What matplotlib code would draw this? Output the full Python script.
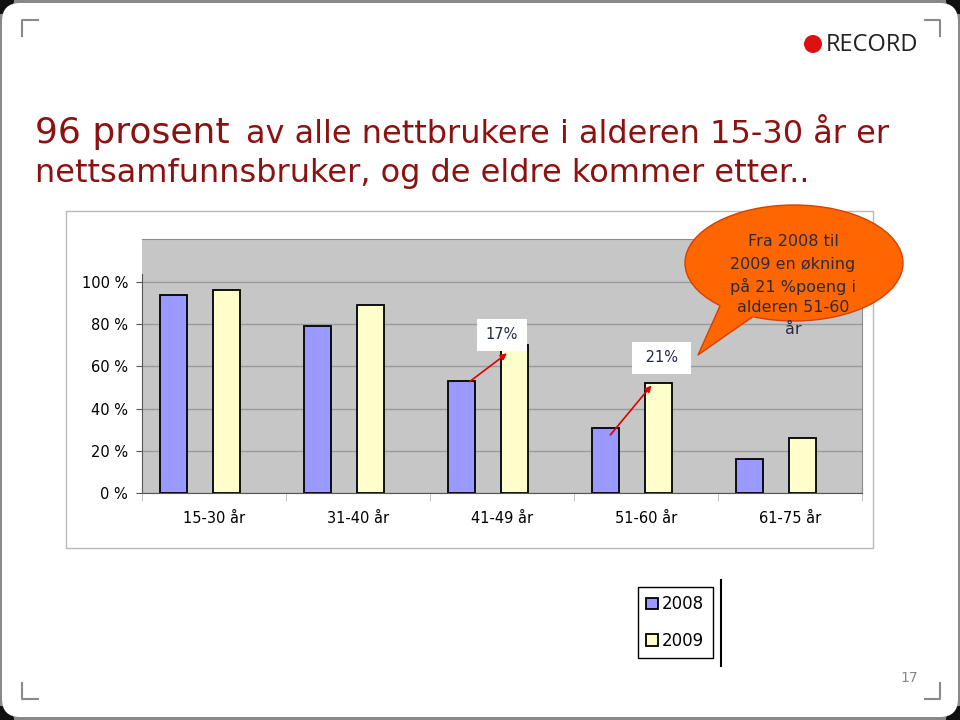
import matplotlib
matplotlib.use("Agg")
import matplotlib.pyplot as plt
from matplotlib.patches import Ellipse, Rectangle, FancyBboxPatch, Polygon, Circle
from matplotlib.lines import Line2D

# data
categories = ["15-30 år", "31-40 år", "41-49 år", "51-60 år", "61-75 år"]
years = ["2008", "2009"]
share_2008 = [94, 79, 53, 31, 16]
share_2009 = [96, 89, 70, 52, 26]
y_ticks = [0, 20, 40, 60, 80, 100]
y_labels = ["0 %", "20 %", "40 %", "60 %", "80 %", "100 %"]
bar_colors = ["#9999FF", "#FFFFCC"]
title_red = "#8C1111"

fig = plt.figure(figsize=(9.6, 7.2), dpi=100)
fig.patch.set_facecolor("#8A8A8A")

# background layer in pixel coords
bg = fig.add_axes([0, 0, 1, 1], zorder=0)
bg.set_xlim(0, 960)
bg.set_ylim(720, 0)
bg.axis("off")
# dark corners of the slide
for cx, cy in [(0, 0), (960, 0), (0, 720), (960, 720)]:
    bg.add_patch(Circle((cx, cy), 14, facecolor="#111111", edgecolor="none"))
bg.add_patch(FancyBboxPatch((2, 3), 956, 714, boxstyle="round,pad=0,rounding_size=18",
                            facecolor="white", edgecolor="none"))
# corner marks
for xs, ys in [([22, 22, 38], [36, 20, 20]), ([925, 940, 940], [20, 20, 36]),
               ([22, 22, 38], [683, 699, 699]), ([925, 940, 940], [699, 699, 683])]:
    bg.add_line(Line2D(xs, ys, color="#8a8a8a", lw=1.5))
bg.text(909, 678, "17", color="#888888", fontsize=10, ha="center", va="center")

# logo
bg.add_patch(Circle((813, 44), 9, facecolor="#DD1111", edgecolor="none"))
bg.text(826, 45, "RECORD", fontsize=17, color="#222222", ha="left", va="center",
        family="Open Sans")

# title
bg.text(35, 143, "96 prosent", fontsize=26, color=title_red, va="baseline")
bg.text(246, 143, "av alle nettbrukere i alderen 15-30 år er", fontsize=23,
        color=title_red, va="baseline")
bg.text(35, 182, "nettsamfunnsbruker, og de eldre kommer etter..", fontsize=23,
        color=title_red, va="baseline")

# chart frame
bg.add_patch(Rectangle((66, 211), 807, 337, facecolor="white", edgecolor="#BBBBBB", lw=1))

# legend side line
bg.add_line(Line2D([721, 721], [580, 666], color="black", lw=1.5))

# chart
ax = fig.add_axes([142 / 960, 1 - 493 / 720, 720 / 960, 254 / 720], zorder=1)
ax.set_facecolor("#C6C6C6")
x = list(range(len(categories)))
b1 = ax.bar([i - 0.28 for i in x], share_2008, width=0.19, color=bar_colors[0],
            edgecolor="black", lw=1.3, label=years[0], zorder=3)
b2 = ax.bar([i + 0.085 for i in x], share_2009, width=0.19, color=bar_colors[1],
            edgecolor="black", lw=1.3, label=years[1], zorder=3)
ax.set_xlim(-0.5, len(categories) - 0.5)
ax.set_ylim(0, 120.4)
ax.set_yticks(y_ticks)
ax.set_yticklabels(y_labels, fontsize=10.5)
ax.set_xticks(x)
ax.set_xticklabels(categories, fontsize=10.5)
ax.set_xticks([i - 0.5 for i in range(len(categories) + 1)], minor=True)
ax.tick_params(axis="x", which="major", length=0, pad=13)
ax.tick_params(axis="x", which="minor", length=6, color="#BBBBBB", direction="out")
ax.tick_params(axis="y", length=4, color="#555555", pad=6)
ax.grid(axis="y", color="#9A9A9A", lw=1, zorder=1)
ax.set_axisbelow(True)
for s in ["top", "right"]:
    ax.spines[s].set_color("#8C8C8C")
ax.spines["left"].set_color("#555555")
ax.spines["left"].set_bounds(0, 104)
ax.spines["bottom"].set_color("#555555")

# change arrows and labels
arrow_kw = dict(arrowstyle="-|>", color="#E00000", lw=1.2, mutation_scale=9)
ax.annotate("", xy=(2 + 0.05, share_2009[2] - 3), xytext=(2 - 0.24, share_2008[2] - 1),
            arrowprops=arrow_kw, zorder=5)
ax.annotate("", xy=(3 + 0.05, share_2009[3]), xytext=(3 - 0.26, share_2008[3] - 4.5),
            arrowprops=arrow_kw, zorder=5)
box = dict(boxstyle="square,pad=0.6", facecolor="white", edgecolor="none")
ax.text(2.0, 75, "17%", fontsize=10.5, color="#1F2A44", ha="center", va="center",
        bbox=box, zorder=6)
ax.text(3.11, 64, " 21% ", fontsize=10.5, color="#1F2A44", ha="center", va="center",
        bbox=box, zorder=6)

# legend
fig.legend(handles=[b1, b2], labels=years, loc="upper left",
           bbox_to_anchor=(638 / 960, 1 - 587 / 720), bbox_transform=fig.transFigure,
           fontsize=12, fancybox=False, edgecolor="black", framealpha=1,
           borderpad=0.5, borderaxespad=0, handlelength=0.7, handleheight=0.7,
           handletextpad=0.25, labelspacing=1.1)

# callout on top
top = fig.add_axes([0, 0, 1, 1], zorder=3)
top.set_xlim(0, 960)
top.set_ylim(720, 0)
top.axis("off")
orange = "#FF6600"
edge = "#D84000"
top.add_patch(Ellipse((794, 263), 218, 116, facecolor=orange, edgecolor=edge, lw=1))
top.add_patch(Polygon([(722, 300), (698, 355), (760, 313)], closed=True,
                      facecolor=orange, edgecolor="none"))
top.add_line(Line2D([720, 698, 752], [306, 355, 317], color=edge, lw=1))
callout = ["Fra 2008 til", "2009 en økning", "på 21 %poeng i", "alderen 51-60", "år"]
for k, line in enumerate(callout):
    top.text(793, 242 + 22 * k, line, fontsize=11.5, color="#2A2A40",
             ha="center", va="center")

fig.savefig("out.png", dpi=100, facecolor=fig.get_facecolor())
